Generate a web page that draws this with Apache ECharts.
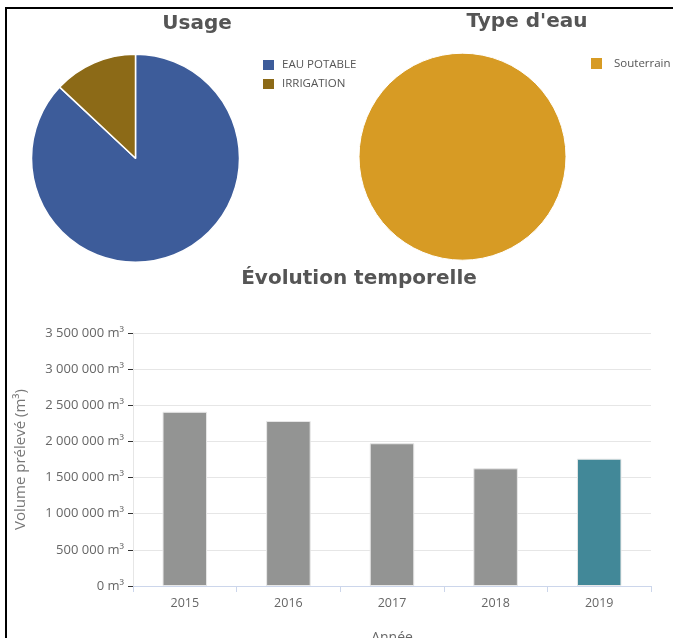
<!DOCTYPE html>
<html><head><meta charset="utf-8">
<script src="https://cdn.jsdelivr.net/npm/echarts@6/dist/echarts.min.js"></script>
<style>
html,body{margin:0;padding:0;background:#fff;overflow:hidden;}
#c{width:673px;height:638px;}
#frame{position:absolute;left:5px;top:7px;width:700px;height:700px;border-left:2px solid #000;border-top:2px solid #000;pointer-events:none;}
</style></head>
<body>
<div id="c"></div>
<div id="frame"></div>
<script>
const usageNames = ['EAU POTABLE', 'IRRIGATION'];
const usageValues = [87, 13];
const typeNames = ['Souterrain'];
const typeValues = [100];
const years = ['2015', '2016', '2017', '2018', '2019'];
const volumes = [2410000, 2283000, 1975000, 1628000, 1761000];
const yTicks = [0, 500000, 1000000, 1500000, 2000000, 2500000, 3000000, 3500000];

const usageColors = ['#3D5C9A', '#8C6A17'];
const typeColors = ['#D79B24'];

function fmt(v) {
  return String(v).replace(/\B(?=(\d{3})+(?!\d))/g, ' ') + ' m³';
}

const chart = echarts.init(document.getElementById('c'));
const titleStyle = {fontFamily: 'DejaVu Sans', fontWeight: 'bold', fontSize: 20, color: '#555'};
chart.setOption({
  animation: false,
  title: [
    {text: 'Usage', left: 192, top: 9, textAlign: 'center', textStyle: titleStyle},
    {text: "Type d'eau", left: 522, top: 7, textAlign: 'center', textStyle: titleStyle},
    {text: 'Évolution temporelle', left: 354, top: 264, textAlign: 'center', textStyle: titleStyle}
  ],
  legend: [
    {data: usageNames, left: 256, top: 53, orient: 'vertical', itemWidth: 13, itemHeight: 12, itemGap: 5,
     icon: 'rect', textStyle: {fontFamily: 'Open Sans', fontSize: 11.5, color: '#555', padding: [0,0,0,2]}},
    {data: typeNames, left: 584, top: 51, orient: 'vertical', itemWidth: 13, itemHeight: 13, itemGap: 5,
     icon: 'rect', textStyle: {fontFamily: 'Open Sans', fontSize: 11.5, color: '#555', padding: [0,0,0,6]}}
  ],
  grid: {left: 133, width: 518, top: 333, height: 253, containLabel: false, outerBoundsMode: 'none'},
  xAxis: {
    type: 'category', data: years,
    name: 'Année', nameLocation: 'middle', nameGap: 45,
    nameTextStyle: {fontFamily: 'Open Sans', fontSize: 14, color: '#666'},
    axisLine: {lineStyle: {color: '#ccd6eb'}},
    axisTick: {show: true, length: 6, lineStyle: {color: '#ccd6eb'}},
    axisLabel: {fontFamily: 'Open Sans', fontSize: 12.5, color: '#666', margin: 11}
  },
  yAxis: {
    type: 'value', min: 0, max: 3500000, interval: 500000,
    name: 'Volume prélevé (m³)', nameLocation: 'middle', nameGap: 105, nameRotate: 90,
    nameTextStyle: {fontFamily: 'Open Sans', fontSize: 15, color: '#777'},
    axisLine: {show: true, lineStyle: {color: '#e6e6e6'}},
    axisTick: {show: true, length: 5, lineStyle: {color: '#333'}},
    splitLine: {lineStyle: {color: '#e6e6e6'}},
    axisLabel: {fontFamily: 'Open Sans', fontSize: 13, color: '#666', margin: 9,
      formatter: v => yTicks.includes(v) ? fmt(v) : ''}
  },
  series: [
    {type: 'pie', name: 'Usage', center: [135.5, 158.3], radius: [0, 104], clockwise: true, startAngle: 90,
     label: {show: false}, labelLine: {show: false},
     itemStyle: {borderColor: '#fff', borderWidth: 1.5},
     data: usageNames.map((n, i) => ({name: n, value: usageValues[i], itemStyle: {color: usageColors[i]}}))},
    {type: 'pie', name: "Type d'eau", center: [462.5, 156.7], radius: [0, 103.5], startAngle: 90,
     label: {show: false}, labelLine: {show: false},
     itemStyle: {borderColor: '#fff', borderWidth: 1},
     data: typeNames.map((n, i) => ({name: n, value: typeValues[i], itemStyle: {color: typeColors[i]}}))},
    {type: 'bar', barWidth: '43%',
     data: volumes.map((v, i) => ({value: v, itemStyle: {color: i === volumes.length - 1 ? '#428898' : '#939493', borderColor: '#e8e8e8', borderWidth: 1}}))}
  ]
});
</script>
</body></html>
